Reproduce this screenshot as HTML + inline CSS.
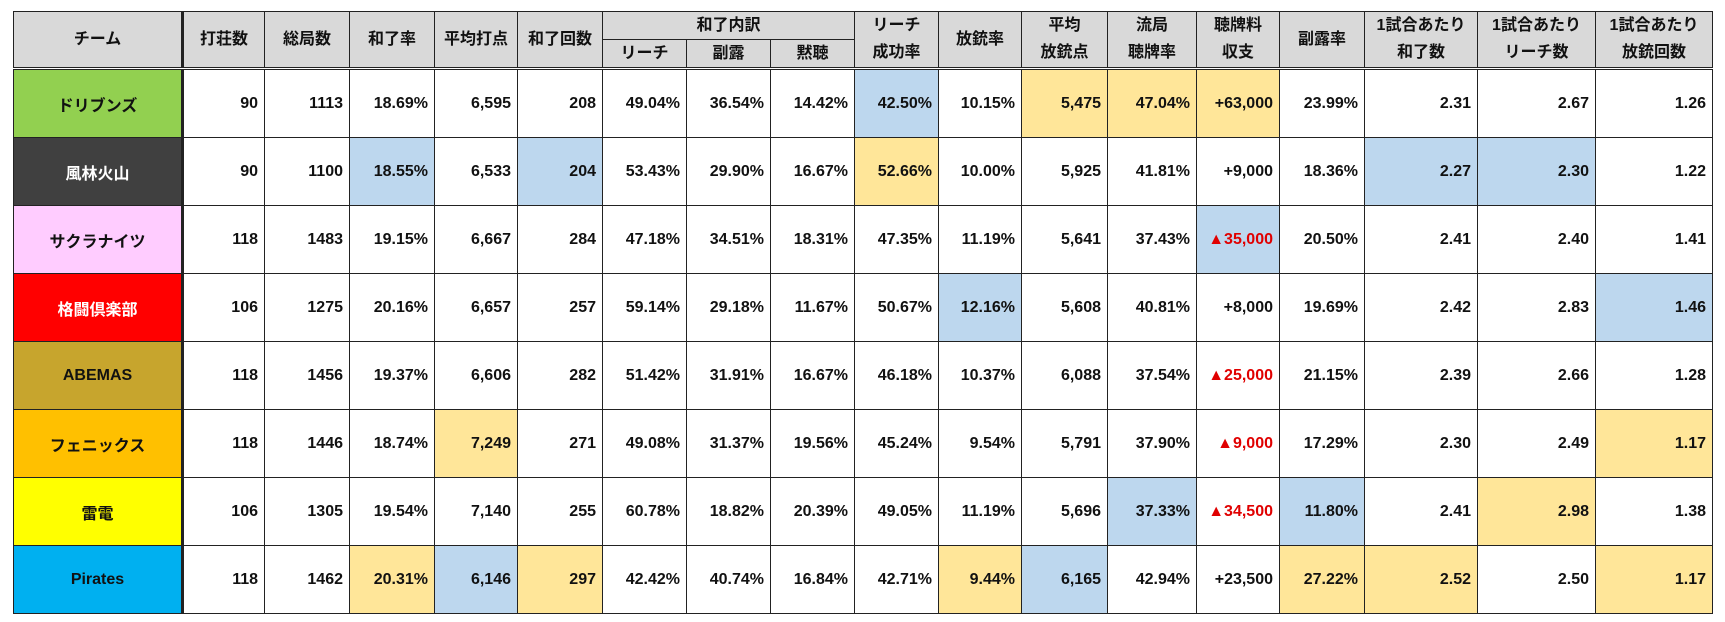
<!DOCTYPE html>
<html><head><meta charset="utf-8"><style>
body{margin:0;background:#fff;width:1725px;height:622px;overflow:hidden;font-family:"Liberation Sans","Noto Sans CJK JP",sans-serif;}
table{position:absolute;left:13px;top:11px;border-collapse:collapse;table-layout:fixed;width:1699px;}
td,th{border:1px solid #222;font-size:16px;font-weight:bold;color:#111;padding:0 6px;white-space:nowrap;overflow:hidden;}
th{background:#d9d9d9;text-align:center;line-height:20px;}
thead tr.h1 th{height:27px;}
thead tr.h2 th{height:27px;}
thead tr:last-child th, thead th[rowspan="2"]{border-bottom:3px double #222;}
td{height:67px;text-align:right;background:#fff;}
td.team{text-align:center;border-right:3px solid #222;}
th.team{border-right:3px solid #222;}
.b{background:#bdd7ee}.y{background:#ffe699}.r{color:#e00000}
</style></head><body>
<table>
<colgroup><col style="width:169px"><col style="width:82px"><col style="width:85px"><col style="width:85px"><col style="width:83px"><col style="width:85px"><col style="width:84px"><col style="width:84px"><col style="width:84px"><col style="width:84px"><col style="width:83px"><col style="width:86px"><col style="width:89px"><col style="width:83px"><col style="width:85px"><col style="width:113px"><col style="width:118px"><col style="width:117px"></colgroup>
<thead>
<tr class="h1">
<th rowspan="2" class="team">チーム</th>
<th rowspan="2">打荘数</th>
<th rowspan="2">総局数</th>
<th rowspan="2">和了率</th>
<th rowspan="2">平均打点</th>
<th rowspan="2">和了回数</th>
<th colspan="3" style="border-bottom:1px solid #222">和了内訳</th>
<th style="border-bottom:none">リーチ</th>
<th rowspan="2">放銃率</th>
<th style="border-bottom:none">平均</th>
<th style="border-bottom:none">流局</th>
<th style="border-bottom:none">聴牌料</th>
<th rowspan="2">副露率</th>
<th style="border-bottom:none">1試合あたり</th>
<th style="border-bottom:none">1試合あたり</th>
<th style="border-bottom:none">1試合あたり</th>
</tr>
<tr class="h2">
<th>リーチ</th>
<th>副露</th>
<th>黙聴</th>
<th style="border-top:none">成功率</th>
<th style="border-top:none">放銃点</th>
<th style="border-top:none">聴牌率</th>
<th style="border-top:none">収支</th>
<th style="border-top:none">和了数</th>
<th style="border-top:none">リーチ数</th>
<th style="border-top:none">放銃回数</th>
</tr>
</thead>
<tbody>
<tr><td class="team" style="background:#92d050">ドリブンズ</td><td>90</td><td>1113</td><td>18.69%</td><td>6,595</td><td>208</td><td>49.04%</td><td>36.54%</td><td>14.42%</td><td class="b">42.50%</td><td>10.15%</td><td class="y">5,475</td><td class="y">47.04%</td><td class="y">+63,000</td><td>23.99%</td><td>2.31</td><td>2.67</td><td>1.26</td></tr>
<tr><td class="team" style="background:#404040;color:#fff">風林火山</td><td>90</td><td>1100</td><td class="b">18.55%</td><td>6,533</td><td class="b">204</td><td>53.43%</td><td>29.90%</td><td>16.67%</td><td class="y">52.66%</td><td>10.00%</td><td>5,925</td><td>41.81%</td><td>+9,000</td><td>18.36%</td><td class="b">2.27</td><td class="b">2.30</td><td>1.22</td></tr>
<tr><td class="team" style="background:#ffccff">サクラナイツ</td><td>118</td><td>1483</td><td>19.15%</td><td>6,667</td><td>284</td><td>47.18%</td><td>34.51%</td><td>18.31%</td><td>47.35%</td><td>11.19%</td><td>5,641</td><td>37.43%</td><td class="b r">▲35,000</td><td>20.50%</td><td>2.41</td><td>2.40</td><td>1.41</td></tr>
<tr><td class="team" style="background:#ff0000;color:#fff">格闘倶楽部</td><td>106</td><td>1275</td><td>20.16%</td><td>6,657</td><td>257</td><td>59.14%</td><td>29.18%</td><td>11.67%</td><td>50.67%</td><td class="b">12.16%</td><td>5,608</td><td>40.81%</td><td>+8,000</td><td>19.69%</td><td>2.42</td><td>2.83</td><td class="b">1.46</td></tr>
<tr><td class="team" style="background:#c7a52d">ABEMAS</td><td>118</td><td>1456</td><td>19.37%</td><td>6,606</td><td>282</td><td>51.42%</td><td>31.91%</td><td>16.67%</td><td>46.18%</td><td>10.37%</td><td>6,088</td><td>37.54%</td><td class="r">▲25,000</td><td>21.15%</td><td>2.39</td><td>2.66</td><td>1.28</td></tr>
<tr><td class="team" style="background:#ffc000">フェニックス</td><td>118</td><td>1446</td><td>18.74%</td><td class="y">7,249</td><td>271</td><td>49.08%</td><td>31.37%</td><td>19.56%</td><td>45.24%</td><td>9.54%</td><td>5,791</td><td>37.90%</td><td class="r">▲9,000</td><td>17.29%</td><td>2.30</td><td>2.49</td><td class="y">1.17</td></tr>
<tr><td class="team" style="background:#ffff00">雷電</td><td>106</td><td>1305</td><td>19.54%</td><td>7,140</td><td>255</td><td>60.78%</td><td>18.82%</td><td>20.39%</td><td>49.05%</td><td>11.19%</td><td>5,696</td><td class="b">37.33%</td><td class="r">▲34,500</td><td class="b">11.80%</td><td>2.41</td><td class="y">2.98</td><td>1.38</td></tr>
<tr><td class="team" style="background:#00b0f0">Pirates</td><td>118</td><td>1462</td><td class="y">20.31%</td><td class="b">6,146</td><td class="y">297</td><td>42.42%</td><td>40.74%</td><td>16.84%</td><td>42.71%</td><td class="y">9.44%</td><td class="b">6,165</td><td>42.94%</td><td>+23,500</td><td class="y">27.22%</td><td class="y">2.52</td><td>2.50</td><td class="y">1.17</td></tr>
</tbody>
</table>
</body></html>
